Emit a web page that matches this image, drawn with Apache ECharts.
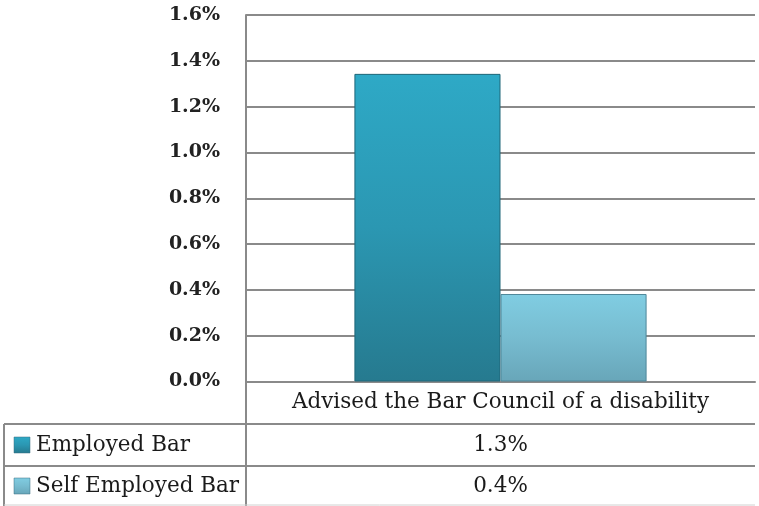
<!DOCTYPE html>
<html><head><meta charset="utf-8">
<script src="https://cdn.jsdelivr.net/npm/echarts@6/dist/echarts.min.js"></script>
<style>html,body{margin:0;padding:0;background:#fff}#c{width:759px;height:506px}</style>
</head><body><div id="c"></div>
<script>
const categories = ['Advised the Bar Council of a disability'];
const seriesNames = ['Employed Bar', 'Self Employed Bar'];
const employedBar = [0.01343];
const selfEmployedBar = [0.00382];
const tableValues = ['1.3%', '0.4%'];

const FONT = 'DejaVu Serif';
const L = 246, R = 755, T = 15, B = 381.5;
const rowY = [424, 466, 506];
const colors = [
  {top:'#2ea9c6', mid:'#2b97b2', bottom:'#267a8f'},
  {top:'#80cde2', mid:'#77bcd0', bottom:'#68a6b9'}
];
function grad(c){return new echarts.graphic.LinearGradient(0,0,0,1,[{offset:0,color:c.top},{offset:0.5,color:c.mid},{offset:1,color:c.bottom}]);}

const chart = echarts.init(document.getElementById('c'));
const gridColor = '#8a8a8a';
const txtColor = '#1a1a1a';
const graphics = [];
graphics.push({type:'line', shape:{x1:4,y1:rowY[0],x2:R,y2:rowY[0]}, style:{stroke:gridColor,lineWidth:2}});
graphics.push({type:'line', shape:{x1:4,y1:rowY[1],x2:R,y2:rowY[1]}, style:{stroke:gridColor,lineWidth:2}});
graphics.push({type:'line', shape:{x1:4,y1:rowY[0],x2:4,y2:506}, style:{stroke:gridColor,lineWidth:2}});
graphics.push({type:'line', shape:{x1:L,y1:B,x2:L,y2:506}, style:{stroke:gridColor,lineWidth:2}});
graphics.push({type:'line', shape:{x1:4,y1:505,x2:R,y2:505}, style:{stroke:'#d0d0d0',lineWidth:1}});
seriesNames.forEach((n,i)=>{
  const cy = (rowY[i]+rowY[i+1])/2;
  graphics.push({type:'rect', shape:{x:14,y:cy-8,width:16,height:16}, style:{fill:grad(colors[i]), stroke:'#3a6f80', lineWidth:0.5}});
  graphics.push({type:'text', x:36, y:cy, style:{text:n, font:'21.5px "'+FONT+'", serif', fill:txtColor, verticalAlign:'middle', align:'left'}});
  graphics.push({type:'text', x:(L+R)/2, y:cy, style:{text:tableValues[i], font:'21.5px "'+FONT+'", serif', fill:txtColor, verticalAlign:'middle', align:'center'}});
});

chart.setOption({
  animation:false,
  backgroundColor:'#fff',
  grid:{left:L, right:759-R, top:T, bottom:506-B, containLabel:false},
  xAxis:{type:'category', data:categories,
    axisLine:{show:true, lineStyle:{color:gridColor,width:2}},
    axisTick:{show:false},
    axisLabel:{margin:10, fontFamily:FONT, fontSize:21.5, color:txtColor}},
  yAxis:{type:'value', min:0, max:0.016, interval:0.002,
    axisLine:{show:true, lineStyle:{color:gridColor,width:2}},
    axisTick:{show:false},
    splitLine:{lineStyle:{color:gridColor,width:2}},
    axisLabel:{margin:26, fontFamily:FONT, fontSize:19, fontWeight:'bold', color:'#222',
      formatter:v=>(v*100).toFixed(1)+'%'}},
  series:[
    {name:seriesNames[0], type:'bar', data:employedBar, barGap:'0%', barCategoryGap:'42.6%',
      itemStyle:{color:grad(colors[0]), borderColor:'#1f6678', borderWidth:1}},
    {name:seriesNames[1], type:'bar', data:selfEmployedBar,
      itemStyle:{color:grad(colors[1]), borderColor:'#4f8799', borderWidth:1}}
  ],
  graphic:graphics
});
</script></body></html>
